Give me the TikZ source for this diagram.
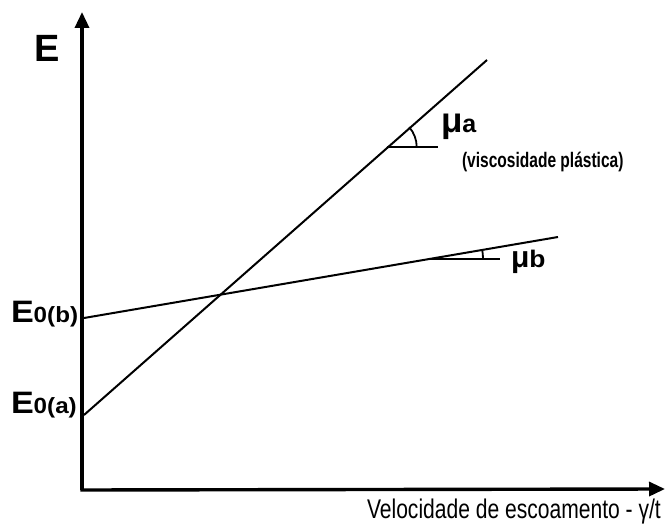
\documentclass[tikz,border=0pt]{standalone}
\usepackage{fontspec}
\setmainfont{Liberation Sans}
\usetikzlibrary{arrows.meta,calc}
\begin{document}
\begin{tikzpicture}[x=1pt,y=-1pt,
  axis/.style={line width=3.4pt,-{Triangle[length=16pt,width=14pt]}},
  curve/.style={line width=2pt},
  anglemark/.style={line width=1.8pt},
  lab/.style={inner sep=0pt,outer sep=0pt,anchor=base west}]
\useasboundingbox (0,0) rectangle (666,529);
% axes
\coordinate (O) at (82,490);
\coordinate (Ytip) at (82,12);
\coordinate (Xtip) at (665,489);
\draw[axis] (O) -- (Ytip);
\draw[axis] ($(O)+(-1.7,0)$) -- (Xtip);
% lines
\coordinate (A0) at (84,415);
\coordinate (A1) at (487,60);
\coordinate (B0) at (84,318);
\coordinate (B1) at (558,237);
\draw[curve] (A0) -- (A1);
\draw[curve] (B0) -- (B1);
% angle marks
\coordinate (Va) at (386.7,147);
\coordinate (Ha) at (438,147);
\draw[anglemark] (Va) -- (Ha);
\draw[anglemark] ($(Va)+(30,0)$) arc[start angle=0,end angle=-41.4,radius=30];
\coordinate (Vb) at (429,259);
\coordinate (Hb) at (500,259);
\draw[anglemark] (Vb) -- (Hb);
\draw[anglemark] ($(Vb)+(54,0)$) arc[start angle=0,end angle=-9.7,radius=54];
% labels
\node[lab] (E) at (34,62) {\fontsize{38}{38}\selectfont\bfseries E};
\node[lab] (Eb) at (11,322) {\scalebox{1.1}[1]{\fontsize{31}{31}\selectfont\bfseries E}\scalebox{1.1}[1]{\fontsize{22}{22}\selectfont\bfseries 0(b)}};
\node[lab] (Ea) at (11,413) {\scalebox{1.1}[1]{\fontsize{31}{31}\selectfont\bfseries E}\scalebox{1.1}[1]{\fontsize{22}{22}\selectfont\bfseries 0(a)}};
\node[lab] (mua) at (441,133) {\fontsize{35}{35}\selectfont\bfseries μ\fontsize{25}{25}\selectfont a};
\node[lab] (visc) at (462,168) {\scalebox{0.74}[1]{\fontsize{21}{21}\selectfont\bfseries (viscosidade plástica)}};
\node[lab] (mub) at (511,267) {\fontsize{30}{30}\selectfont\bfseries μ\scalebox{1.1}[1]{\fontsize{24}{24}\selectfont b}};
\node[lab] (xl) at (367,518) {\scalebox{0.78}[1]{\fontsize{27}{27}\selectfont Velocidade de escoamento - γ/t}};
\end{tikzpicture}
\end{document}
